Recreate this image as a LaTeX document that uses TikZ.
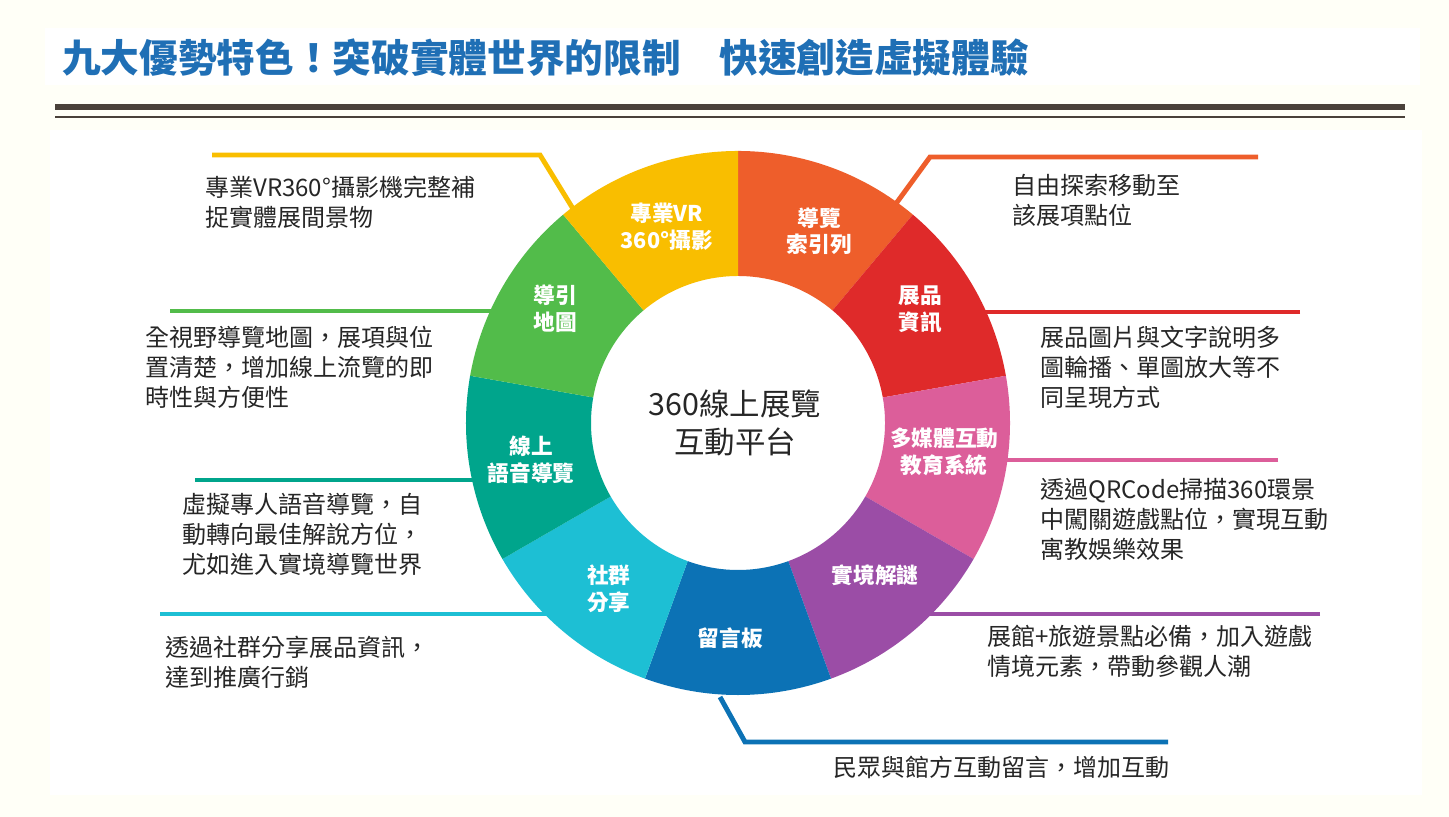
\documentclass[tikz,border=0pt]{standalone}
\usepackage{fontspec}
\setmainfont{Noto Sans CJK TC}
\usetikzlibrary{calc}
\definecolor{cyel}{HTML}{F9BE00}
\definecolor{cora}{HTML}{EE5E2B}
\definecolor{cred}{HTML}{DF2A2A}
\definecolor{cpink}{HTML}{DC5E9A}
\definecolor{cpur}{HTML}{9B4DA6}
\definecolor{cblue}{HTML}{0C72B5}
\definecolor{ccyan}{HTML}{1DBFD4}
\definecolor{cteal}{HTML}{00A58C}
\definecolor{cgreen}{HTML}{52BC4A}
\definecolor{ctitle}{HTML}{1F6FB5}
\definecolor{cbar}{HTML}{4A413A}
\tikzset{
  lead/.style={line width=4.2pt},
  desc/.style={anchor=north west, align=left, inner sep=0pt, font=\fontsize{20.5}{25.5}\selectfont, text=black!85},
  seglabel/.style={align=center, text=white, font=\fontsize{18.5}{23}\selectfont\bfseries}
}
\begin{document}
\begin{tikzpicture}[x=0.03cm, y=0.03cm]
    % Background
    \fill[yellow!3] (0,0) rectangle (1449,817);
    \useasboundingbox (0,0) rectangle (1449,817);
    \fill[white] (45,732) rectangle (1420,789);
    \fill[white] (50,22) rectangle (1422,687);

    % Title
    \node[anchor=west, text=ctitle, inner sep=0pt, font=\fontsize{33}{36}\selectfont\bfseries] (title) at (62,759)
        {九大優勢特色！突破實體世界的限制\quad 快速創造虛擬體驗};
    \draw[cbar, line width=4.5pt] (55,710) -- (1405,710);
    \draw[cbar, line width=1.2pt] (55,700) -- (1405,700);

    % Leader lines
    \draw[lead, cyel] (212,662) -- (540,662) -- (575,605);
    \draw[lead, cora] (1258,660) -- (930,660) -- (895,612);
    \draw[lead, cgreen] (170,506) -- (500,506);
    \draw[lead, cred] (1300,505) -- (980,505);
    \draw[lead, cteal] (195,337) -- (480,337);
    \draw[lead, cpink] (1278,357) -- (1000,357);
    \draw[lead, ccyan] (160,203) -- (550,203);
    \draw[lead, cpur] (1320,203) -- (920,203);
    \draw[lead, cblue] (720,120) -- (745,75) -- (1168,75);

    % Ring
    \coordinate (c) at (738,394);
    \foreach \a/\col in {50/cora, 10/cred, -30/cpink, -70/cpur, -110/cblue,
                         -150/ccyan, -190/cteal, -230/cgreen, -270/cyel} {
        \fill[\col] ($(c)+(\a:8.16cm)$) arc[start angle=\a, delta angle=40, radius=8.16cm]
            -- ($(c)+(\a+40:4.41cm)$) arc[start angle=\a+40, delta angle=-40, radius=4.41cm] -- cycle;
    }

    % Segment labels
    \node[seglabel] (s1) at ($(c)+(67:6.25cm)$) {導覽\\索引列};
    \node[seglabel] (s2) at ($(c)+(32:6.45cm)$) {展品\\資訊};
    \node[seglabel] (s3) at ($(c)+(-8:6.25cm)$) {多媒體互動\\教育系統};
    \node[seglabel] (s4) at ($(c)+(-48:6.15cm)$) {實境解謎};
    \node[seglabel] (s5) at ($(c)+(-92:6.45cm)$) {留言板};
    \node[seglabel] (s6) at ($(c)+(-128:6.3cm)$) {社群\\分享};
    \node[seglabel] (s7) at ($(c)+(-170:6.3cm)$) {線上\\語音導覽};
    \node[seglabel] (s8) at ($(c)+(-212:6.45cm)$) {導引\\地圖};
    \node[seglabel] (s9) at ($(c)+(-250:6.25cm)$) {專業VR\\360°攝影};

    % Center
    \node[align=center, font=\fontsize{26}{32}\selectfont, text=black!85] (hub) at (735,394)
        {360線上展覽\\互動平台};

    % Descriptions
    \node[desc] (d1) at (205,641) {專業VR360°攝影機完整補\\捉實體展間景物};
    \node[desc] (d2) at (1012,643) {自由探索移動至\\該展項點位};
    \node[desc] (d3) at (145,491) {全視野導覽地圖，展項與位\\置清楚，增加線上流覽的即\\時性與方便性};
    \node[desc] (d4) at (1040,491) {展品圖片與文字說明多\\圖輪播、單圖放大等不\\同呈現方式};
    \node[desc] (d5) at (182,324) {虛擬專人語音導覽，自\\動轉向最佳解說方位，\\尤如進入實境導覽世界};
    \node[desc] (d6) at (1040,339) {透過QRCode掃描360環景\\中闖關遊戲點位，實現互動\\寓教娛樂效果};
    \node[desc] (d7) at (165,181) {透過社群分享展品資訊，\\達到推廣行銷};
    \node[desc] (d8) at (987,192) {展館+旅遊景點必備，加入遊戲\\情境元素，帶動參觀人潮};
    \node[desc] (d9) at (833,61) {民眾與館方互動留言，增加互動};
\end{tikzpicture}
\end{document}
